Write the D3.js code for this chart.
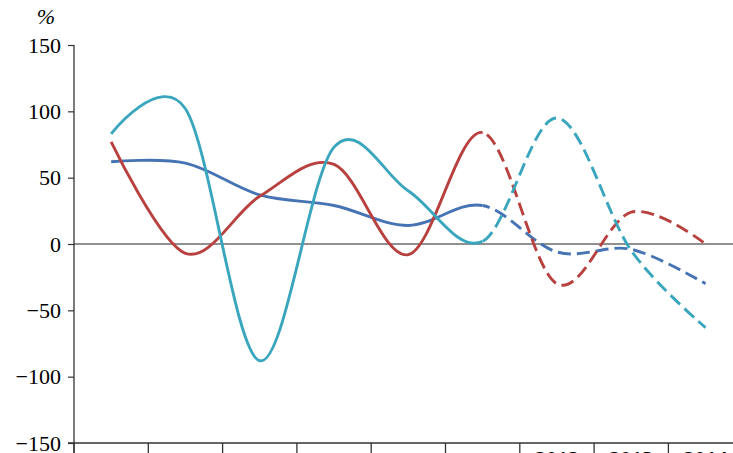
<!DOCTYPE html>
<html>
<head>
<meta charset="utf-8">
<script src="https://cdn.jsdelivr.net/npm/d3@7"></script>
<style>
  html, body { margin: 0; padding: 0; background: #fff; }
  svg { display: block; }
</style>
</head>
<body>
<svg id="chart" width="733" height="453"></svg>
<script>
const categories = ["c1", "c2", "c3", "c4", "c5", "c6", "2012", "2013", "2014"];
const tickLabels = ["", "", "", "", "", "", "2012", "2013", "2014"];
const yTicks = [150, 100, 50, 0, -50, -100, -150];
const seriesBlue = [62, 61, 37, 29, 14, 29, -6, -4, -30];
const seriesRed = [77, -7, 36, 60, -8, 84, -30, 24, 0];
const seriesCyan = [83, 102, -88, 73, 40, 2, 95, -5, -63];
const dashedFrom = 5;

const seriesList = [
  { values: seriesBlue, color: "#4673b3" },
  { values: seriesRed, color: "#b8413f" },
  { values: seriesCyan, color: "#3aa6be" }
];

const svg = d3.select("#chart");
const margin = { left: 74, top: 45 };
const bandW = 74.3;
const x = d3.scaleBand().domain(categories).range([margin.left, margin.left + bandW * categories.length]).padding(0);
const y = d3.scaleLinear().domain([-150, 150]).range([443, 45]);

const serif = "'Liberation Serif', 'Times New Roman', Times, serif";

// y axis
const yAxis = d3.axisLeft(y).tickValues(yTicks).tickSize(6)
  .tickFormat(d => d < 0 ? "\u2212" + Math.abs(d) : String(d));
const gy = svg.append("g").attr("transform", `translate(${margin.left},0)`).call(yAxis);
gy.select(".domain").remove();
gy.selectAll(".tick line").attr("stroke", "#333").attr("stroke-width", 1.2);
gy.selectAll(".tick text").attr("font-family", serif).attr("font-size", 22).attr("fill", "#000").attr("x", -13).attr("dy", "0.32em");
svg.append("line").attr("x1", margin.left).attr("x2", margin.left).attr("y1", y(150)).attr("y2", 453)
  .attr("stroke", "#333").attr("stroke-width", 1.3);

svg.append("text").attr("x", 46).attr("y", 24).attr("text-anchor", "middle")
  .attr("font-family", serif).attr("font-style", "italic").attr("font-size", 22).attr("fill", "#000").text("%");

// bottom axis line
svg.append("line").attr("x1", 68).attr("x2", 733).attr("y1", y(-150)).attr("y2", y(-150))
  .attr("stroke", "#333").attr("stroke-width", 1.3);
// band separators
const bounds = categories.map(c => x(c)).concat([x(categories[categories.length - 1]) + x.bandwidth()]);
svg.selectAll(".sep").data(bounds).enter().append("line")
  .attr("x1", d => d).attr("x2", d => d).attr("y1", y(-150)).attr("y2", 453)
  .attr("stroke", "#333").attr("stroke-width", 1.3);
svg.selectAll(".xlab").data(categories).enter().append("text")
  .attr("x", d => x(d) + x.bandwidth() / 2).attr("y", 466).attr("text-anchor", "middle")
  .attr("font-family", serif).attr("font-weight", "bold").attr("font-size", 22).attr("fill", "#000")
  .text((d, i) => tickLabels[i]);

// zero line
svg.append("line").attr("x1", margin.left).attr("x2", 733).attr("y1", y(0)).attr("y2", y(0))
  .attr("stroke", "#222").attr("stroke-width", 1.2);

// clip paths
const splitX = x(categories[dashedFrom]) + x.bandwidth() / 2;
const defs = svg.append("defs");
defs.append("clipPath").attr("id", "solidClip").append("rect").attr("x", 0).attr("y", 0).attr("width", splitX).attr("height", 453);
defs.append("clipPath").attr("id", "dashClip").append("rect").attr("x", splitX).attr("y", 0).attr("width", 733 - splitX).attr("height", 453);

const line = d3.line()
  .x((d, i) => x(categories[i]) + x.bandwidth() / 2)
  .y(d => y(d))
  .curve(d3.curveCardinal.tension(0));

seriesList.forEach(s => {
  svg.append("path").attr("d", line(s.values)).attr("fill", "none")
    .attr("stroke", s.color).attr("stroke-width", 2.9).attr("clip-path", "url(#solidClip)");
  svg.append("path").attr("d", line(s.values)).attr("fill", "none")
    .attr("stroke", s.color).attr("stroke-width", 2.9).attr("stroke-dasharray", "13,6")
    .attr("clip-path", "url(#dashClip)");
});
</script>
</body>
</html>
